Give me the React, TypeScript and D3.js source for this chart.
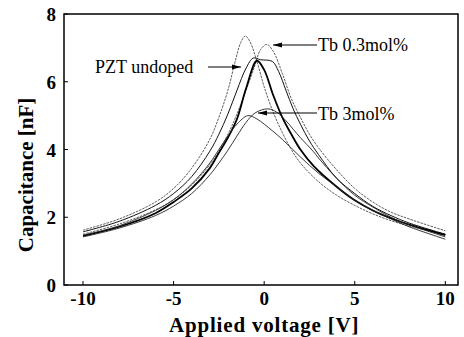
import React from "react"
import * as d3 from "d3"

type Pt = [number, number]

// voltage [V], capacitance [nF]
const tb03Reverse: Pt[] = [
  [-10, 1.62], [-8, 1.95], [-6, 2.45], [-5, 2.85], [-4, 3.45], [-3, 4.3], [-2.5, 4.95], [-2, 5.75],
  [-1.6, 6.6], [-1.3, 7.15], [-1.05, 7.35], [-0.8, 7.2], [-0.4, 6.6], [0, 5.85], [0.5, 5.1], [1, 4.5],
  [1.5, 4.0], [2, 3.6], [3, 3.05], [4, 2.65], [5, 2.35], [6, 2.1], [7, 1.9], [8, 1.74], [10, 1.5],
]
const tb03Forward: Pt[] = [
  [-10, 1.5], [-8, 1.8], [-6, 2.22], [-5, 2.52], [-4, 2.95], [-3, 3.55], [-2.5, 3.95], [-2, 4.45],
  [-1.5, 5.05], [-1, 5.75], [-0.5, 6.5], [-0.2, 6.95], [0.15, 7.1], [0.5, 6.9], [1, 6.25], [1.5, 5.5],
  [2, 4.95], [2.5, 4.45], [3, 4.05], [4, 3.4], [5, 2.85], [6, 2.45], [7, 2.15], [8, 1.95], [10, 1.6],
]
const pztReverse: Pt[] = [
  [-10, 1.57], [-8, 1.88], [-6, 2.35], [-5, 2.7], [-4, 3.2], [-3, 3.95], [-2.5, 4.45], [-2, 5.05],
  [-1.5, 5.75], [-1, 6.4], [-0.6, 6.7], [-0.2, 6.65], [0.45, 6.6], [0.8, 6.3], [1.2, 5.75], [1.6, 5.2],
  [2, 4.75], [2.5, 4.25], [3, 3.85], [4, 3.15], [5, 2.7], [6, 2.32], [7, 2.05], [8, 1.83], [10, 1.5],
]
const pztForward: Pt[] = [
  [-10, 1.45], [-8, 1.72], [-6, 2.12], [-5, 2.45], [-4, 2.85], [-3, 3.45], [-2.5, 3.9], [-2, 4.35],
  [-1.5, 4.9], [-1, 5.8], [-0.4, 6.62], [0, 6.35], [0.5, 5.6], [1, 4.95], [1.5, 4.45], [2, 4.0],
  [2.75, 3.5], [4, 2.9], [5, 2.5], [6, 2.2], [7, 1.97], [8, 1.78], [10, 1.47],
]
const tb3Reverse: Pt[] = [
  [-10, 1.47], [-8, 1.75], [-6, 2.2], [-5, 2.52], [-4, 2.98], [-3, 3.6], [-2.5, 4.0], [-2, 4.4],
  [-1.5, 4.75], [-0.9, 5.0], [-0.4, 4.9], [0, 4.75], [1, 4.3], [2, 3.78], [3, 3.3], [4, 2.9],
  [5, 2.5], [6, 2.2], [7, 1.95], [8, 1.72], [10, 1.35],
]
const tb3Forward: Pt[] = [
  [-10, 1.42], [-8, 1.68], [-6, 2.05], [-5, 2.33], [-4, 2.7], [-3, 3.25], [-2.5, 3.6], [-2, 3.98],
  [-1.5, 4.4], [-1, 4.8], [-0.5, 5.08], [0.2, 5.2], [0.7, 5.1], [1.2, 4.85], [1.6, 4.6], [2, 4.35],
  [2.7, 3.95], [3, 3.75], [4, 3.15], [5, 2.65], [6, 2.3], [7, 2.0], [8, 1.78], [10, 1.42],
]

const xTicks = [-10, -5, 0, 5, 10]
const yTicks = [0, 2, 4, 6, 8]

const W = 464
const H = 337
const M = { left: 64, right: 6, top: 14, bottom: 52 }
const FONT = "'Liberation Serif', 'DejaVu Serif', serif"

export default function App() {
  const x = d3.scaleLinear().domain([-11.05, 10.7]).range([M.left, W - M.right])
  const y = d3.scaleLinear().domain([0, 8]).range([H - M.bottom, M.top])
  const line = d3.line<Pt>().x((d) => x(d[0])).y((d) => y(d[1])).curve(d3.curveCatmullRom.alpha(0.5))

  const curves = [
    { pts: tb03Reverse, w: 0.8, dash: "2.5,1", color: "#333" },
    { pts: tb03Forward, w: 0.8, dash: "2.5,1", color: "#333" },
    { pts: pztReverse, w: 1.0, dash: null, color: "#111" },
    { pts: pztForward, w: 1.8, dash: null, color: "#000" },
    { pts: tb3Reverse, w: 0.9, dash: null, color: "#222" },
    { pts: tb3Forward, w: 0.9, dash: null, color: "#222" },
  ]

  const arrow = (x1: number, x2: number, yy: number) => {
    // arrowhead sits at x2
    const dir = x2 > x1 ? -1 : 1
    return (
      <g>
        <line x1={x1} x2={x2} y1={yy} y2={yy} stroke="#000" strokeWidth={1.1} />
        <path d={`M${x2},${yy} L${x2 + dir * 9},${yy - 2.5} L${x2 + dir * 9},${yy + 2.5} Z`} fill="#000" />
      </g>
    )
  }

  return (
    <svg width={W} height={H} style={{ position: "absolute", left: 0, top: 0, background: "#fff" }} fontFamily={FONT}>
      <rect x={M.left} y={M.top} width={W - M.left - M.right} height={H - M.top - M.bottom} fill="none" stroke="#000" strokeWidth={1.5} />
      {xTicks.map((t) => (
        <g key={"x" + t}>
          <line x1={x(t)} x2={x(t)} y1={y(0)} y2={y(0) - 4} stroke="#000" strokeWidth={1} />
          <text x={x(t)} y={y(0) + 20} textAnchor="middle" fontSize={19} fontWeight="bold">{t}</text>
        </g>
      ))}
      {yTicks.map((t) => (
        <g key={"y" + t}>
          <line x1={M.left} x2={M.left + 4} y1={y(t)} y2={y(t)} stroke="#000" strokeWidth={1} />
          <text x={M.left - 8} y={y(t) + 7} textAnchor="end" fontSize={19} fontWeight="bold">{t}</text>
        </g>
      ))}
      <text x={x(0)} y={H - 5} textAnchor="middle" fontSize={21} fontWeight="bold" letterSpacing={0.8}>Applied voltage [V]</text>
      <text transform={`translate(33,175) rotate(-90)`} textAnchor="middle" fontSize={21} fontWeight="bold">Capacitance [nF]</text>
      {curves.map((c, i) => (
        <path key={i} d={line(c.pts) ?? ""} fill="none" stroke={c.color} strokeWidth={c.w} strokeDasharray={c.dash ?? undefined} />
      ))}
      <text x={95} y={73} fontSize={18}>PZT undoped</text>
      {arrow(208, 241, 67)}
      <text x={318} y={51} fontSize={18}>Tb 0.3mol%</text>
      {arrow(317, 273, 45)}
      <text x={318} y={120} fontSize={18}>Tb 3mol%</text>
      {arrow(317, 258, 113)}
    </svg>
  )
}
